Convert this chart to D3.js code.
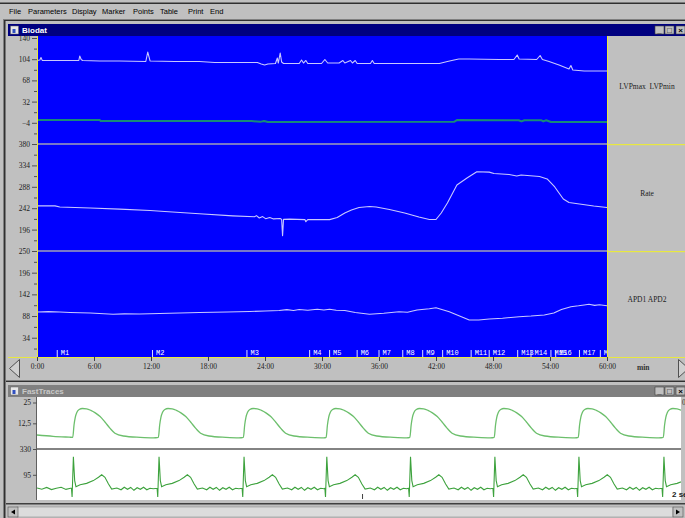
<!DOCTYPE html>
<html>
<head>
<meta charset="utf-8">
<script src="https://cdn.jsdelivr.net/npm/d3@7"></script>
<style>
body{margin:0;background:#c0c0c0;overflow:hidden}
svg{display:block}
</style>
</head>
<body>
<script>
// menu of the application
var menuItems = ["File","Parameters","Display","Marker","Points","Table","Print","End"];
var menuX = [9,28,72,102,133,160,188,210];

// slow trends, [minute, value]
var lvpMax = [[0,101.8],[0.3,102.6],[0.42,106.9],[0.55,102],[2.4,101.8],[4.4,101.8],[4.5,109.4],[4.65,103.5],[4.8,101.8],
  [6.6,101],[8.7,101],[11.45,100.1],[11.66,116.2],[11.9,101],[14.5,100.1],[17.1,100.1],[18.7,98.4],[21.3,98.4],[23.2,98.4],
  [23.6,95.9],[23.96,94.2],[24.3,95.9],[25.1,96.7],[25.3,106],[25.4,97.5],[25.6,114.5],[25.75,99.2],[25.95,96.7],[27.6,96.7],
  [27.85,102.6],[28.05,97.5],[28.3,101.8],[28.5,96.7],[29.95,96.7],[30.3,103.5],[30.6,97.5],[31.8,97.5],[32.2,101.8],[32.4,97.5],
  [33.0,101.8],[33.2,97.5],[33.5,101.8],[33.7,96.7],[35.1,96.7],[35.3,101.8],[35.5,96.7],[42.35,96.7],[43.2,100.1],[43.9,102.6],
  [44.4,104.3],[45.5,104.3],[48.65,103.5],[50.2,103.5],[50.55,111.1],[50.75,104.3],[52.6,103.5],[52.96,110.3],[53.2,103.5],
  [53.9,100.1],[54.95,94.2],[56,87.4],[56.2,93.3],[56.4,85.7],[57.6,84],[60,84]];
var lvpMin = [[0,0.8],[6.6,0.6],[6.7,-0.9],[22.6,-1.1],[23.5,-2.4],[23.9,-0.9],[24.3,-2.6],[43.9,-2.4],[44.2,0.6],[50.7,0.4],
  [51,-1.6],[51.3,0.4],[53.1,0.2],[53.3,-1.6],[53.6,0.3],[54.1,-2.6],[60,-2.6]];
var rate = [[0,247],[1.9,247],[2.4,244.6],[5.6,242.4],[8.7,240],[11.9,237],[13.45,235],[17.1,230],[20.6,225.5],[22.9,223.5],
  [23.1,226],[23.4,221],[23.75,224],[24.06,219.5],[24.5,222],[24.9,219],[25.6,220],[25.75,218],[25.85,183],[25.95,218],
  [26.6,218.5],[28.2,217.5],[28.3,213],[28.5,217.5],[30.8,217.5],[31.6,222],[32.4,231.7],[33.1,238.1],[33.9,243.5],[35,245.6],
  [35.7,244.6],[37.1,239.2],[38.7,231.7],[40.2,223],[41.3,217.7],[42,217.7],[42.55,231.7],[43.2,253],[44.2,292],[45.3,307.6],
  [46.3,320.5],[47.6,319.5],[48.1,316.6],[49.7,314.4],[50.5,311.2],[50.96,313.4],[52.9,310],[53.7,304.8],[54.5,287.6],
  [55.4,261.8],[56,254.2],[57.1,251],[58.6,246.7],[60,243.5]];
var apd = [[0,98.1],[1.2,99],[2.4,98.1],[3.5,97],[5.6,95.6],[8,92.3],[9.2,93.5],[10.8,93.1],[12.9,94.3],[15,95.5],[17.1,96.8],
  [20,98],[22.4,99.3],[24,100.5],[25.5,101.8],[26.3,104],[27,102],[27.6,104.3],[28.5,102.5],[29.5,105],[30.2,103],[30.8,104.8],
  [31.5,102.5],[32.4,101.8],[33.5,97],[35,92.3],[36.5,95],[38.1,98.8],[39,97.5],[40,103],[41.3,106],[42,108.8],[43.4,98.8],
  [45.5,78.2],[46.5,78.2],[47.6,80.6],[49,82.5],[50.75,86.4],[52,88],[53.4,90.6],[54.4,95.6],[55.2,104.3],[56.2,111.3],
  [57,113.5],[57.6,115.5],[58.1,117.3],[58.7,114.5],[59.2,116],[60,113.8]];

// markers
var markerNames = ["M1","M2","M3","M4","M5","M6","M7","M8","M9","M10","M11","M12","M13","M14","M15","M16","M17","M18"];
var markerTimes = [2.13,12.16,22.1,28.7,30.8,33.7,36.0,38.5,40.6,42.7,45.7,47.6,50.6,52.0,54.1,54.6,57.1,59.3];

// axes
var minuteTicks = [0,6,12,18,24,30,36,42,48,54,60];
var minuteLabels = ["0:00","6:00","12:00","18:00","24:00","30:00","36:00","42:00","48:00","54:00","60:00"];
var ticksLvp = [140,104,68,32,-4];
var ticksRate = [380,334,288,242,196];
var ticksApd = [250,196,142,88,34];
var panelNames = ["LVPmax  LVPmin","Rate","APD1 APD2"];

// fast traces: beat onsets (s) and one beat shape each (ms after onset, value)
var beatOnsets = [0.111,0.377,0.641,0.898,1.158,1.420,1.681,1.945];
var pressureLead = [[0,5.5],[0.05,4.7],[0.1,4.2]];
var pressureBeat = [[0,4.1],[4,11.5],[8,16.2],[13,19.2],[20,20.8],[30,21.4],[43,21.2],[56,20.3],[70,18.8],[85,16.6],
  [100,13.3],[116,9.5],[131,6.6],[157,4.9],[209,4.1],[250,3.8]];
var egmLead = [[0,-25],[0.015,-36],[0.03,-20],[0.045,-40],[0.06,-28],[0.075,-18],[0.09,-38],[0.104,-28]];
var egmBeat = [[-4,-28],[-2,-106.6],[2,258.5],[6,42],[10,-13.7],[23,4.9],[43,17],[64,42],[80,72.7],[90,95],[100,72.7],
  [111,11.4],[121,-35],[137,-25.8],[150,-41.6],[160,-18.3],[170,-36.9],[180,-20],[190,-46.2],[200,-23],[210,-36.9],
  [220,-18.3],[230,-41.6],[240,-27.6],[250,-32.3]];
var ticksPressure = [25,12.5];
var ticksEgm = [330,95];
var cursorTime = 1.011;

var svg = d3.select("body").append("svg").attr("width",685).attr("height",518);
svg.append("rect").attr("width",685).attr("height",518).attr("fill","#c0c0c0");

// app frame and menu
svg.append("rect").attr("x",0).attr("y",2.5).attr("width",685).attr("height",1.5).attr("fill","#303030");
svg.append("rect").attr("x",3).attr("y",19).attr("width",682).attr("height",1).attr("fill","#808080");
svg.append("rect").attr("x",3).attr("y",20).attr("width",682).attr("height",1).attr("fill","#303030");
svg.append("rect").attr("x",3).attr("y",19).attr("width",1).attr("height",499).attr("fill","#808080");
svg.append("rect").attr("x",4).attr("y",20).attr("width",1.5).attr("height",498).attr("fill","#303030");
svg.selectAll(".menu").data(menuItems).enter().append("text")
  .attr("x",function(d,i){return menuX[i]}).attr("y",14)
  .style("font-family","Liberation Sans, sans-serif").style("font-size","7.5px").attr("fill","#000")
  .text(function(d){return d});

function titleBar(y,h,title,bg,fg){
  svg.append("rect").attr("x",8).attr("y",y).attr("width",677).attr("height",h).attr("fill",bg);
  svg.append("rect").attr("x",10.5).attr("y",y+2).attr("width",8).attr("height",h-4).attr("fill","#e8e8e8").attr("stroke","#606060").attr("stroke-width",0.5);
  svg.append("rect").attr("x",12.5).attr("y",y+5).attr("width",3).attr("height",h-8).attr("fill","#3050c0");
  svg.append("text").attr("x",22).attr("y",y+h-3).attr("fill",fg)
    .style("font-family","Liberation Sans, sans-serif").style("font-size","8px").style("font-weight","bold").text(title);
  var glyph = ["_","\u25a1","\u00d7"];
  [655,665,676].forEach(function(bx,i){
    svg.append("rect").attr("x",bx).attr("y",y+2).attr("width",9).attr("height",h-4).attr("fill","#c0c0c0")
      .attr("stroke","#404040").attr("stroke-width",0.6);
    svg.append("text").attr("x",bx+4.5).attr("y",y+h-3.5).attr("text-anchor","middle")
      .style("font-family","Liberation Sans, sans-serif").style("font-size","8px").style("font-weight","bold")
      .attr("fill","#000").text(glyph[i]);
  });
}

// ---------- Biodat window ----------
titleBar(24,12,"Biodat","#000080","#ffffff");
var pLeft = 37, pRight = 607, pTop = 36, pBottom = 357;
svg.append("rect").attr("x",pLeft).attr("y",pTop).attr("width",pRight-pLeft).attr("height",pBottom-pTop).attr("fill","#0000ff");

var x = d3.scaleLinear().domain([0,60]).range([pLeft,pRight]);
var yLvp = d3.scaleLinear().domain([-40,140]).range([144,38]);
var yRate = d3.scaleLinear().domain([150,380]).range([251,144]);
var yApd = d3.scaleLinear().domain([-14,250]).range([357,251]);

svg.append("clipPath").attr("id","plotClip").append("rect")
  .attr("x",pLeft).attr("y",pTop).attr("width",pRight-pLeft).attr("height",pBottom-pTop);
var plot = svg.append("g").attr("clip-path","url(#plotClip)");

// panel separators
[144,251].forEach(function(sy){
  plot.append("line").attr("x1",pLeft).attr("x2",pRight).attr("y1",sy).attr("y2",sy)
    .attr("stroke","#7878c8").attr("stroke-width",2);
  svg.append("rect").attr("x",pRight).attr("y",sy).attr("width",685-pRight).attr("height",1.2)
    .attr("fill","#e8e840");
});

function trend(data,yScale,color,width){
  var line = d3.line().x(function(d){return x(d[0])}).y(function(d){return yScale(d[1])});
  plot.append("path").datum(data).attr("d",line).attr("fill","none")
    .attr("stroke",color).attr("stroke-width",width).attr("stroke-linejoin","round");
}
trend(lvpMin,yLvp,"#178a78",2);
trend(lvpMax,yLvp,"#c8c8ff",1.1);
trend(rate,yRate,"#c8c8ff",1.1);
trend(apd,yApd,"#c8c8ff",1.1);

// markers
var mk = plot.selectAll(".marker").data(markerNames).enter().append("g");
mk.append("line").attr("x1",function(d,i){return x(markerTimes[i])}).attr("x2",function(d,i){return x(markerTimes[i])})
  .attr("y1",350).attr("y2",pBottom).attr("stroke","#e0e0ff").attr("stroke-width",1);
mk.append("text").attr("x",function(d,i){return x(markerTimes[i])+3.5}).attr("y",355)
  .style("font-family","Liberation Mono, monospace").style("font-size","7px").attr("fill","#ffffff")
  .text(function(d){return d});

// frame lines
svg.append("line").attr("x1",pLeft+0.5).attr("x2",pLeft+0.5).attr("y1",pTop).attr("y2",pBottom).attr("stroke","#e8e840");
svg.append("line").attr("x1",pRight+0.5).attr("x2",pRight+0.5).attr("y1",pTop).attr("y2",pBottom).attr("stroke","#e8e840");
svg.append("line").attr("x1",8).attr("x2",685).attr("y1",pBottom+0.5).attr("y2",pBottom+0.5).attr("stroke","#e8e840");

// left axes
function leftAxis(scale,ticks){
  var g = svg.append("g").attr("transform","translate("+pLeft+",0)");
  g.call(d3.axisLeft(scale).tickValues(ticks).tickSize(5).tickSizeOuter(0).tickPadding(2).tickFormat(d3.format("d")));
  g.select(".domain").remove();
  g.selectAll("line").attr("stroke","#505050");
  g.selectAll("text").style("font-family","Liberation Serif, serif").style("font-size","7.5px").attr("fill","#202020");
}
function minorTicks(scale,ticks){
  var mids = ticks.slice(0,-1).map(function(t,i){return (t+ticks[i+1])/2});
  mids.push(ticks[ticks.length-1]-(ticks[0]-ticks[1])/2);
  var g = svg.append("g").attr("transform","translate("+pLeft+",0)");
  g.call(d3.axisLeft(scale).tickValues(mids).tickSize(3).tickSizeOuter(0).tickFormat(""));
  g.select(".domain").remove();
  g.selectAll("line").attr("stroke","#505050");
}
leftAxis(yLvp,ticksLvp); minorTicks(yLvp,ticksLvp);
leftAxis(yRate,ticksRate); minorTicks(yRate,ticksRate);
leftAxis(yApd,ticksApd); minorTicks(yApd,ticksApd);

// right panel names
var centers = [86,193,299];
svg.selectAll(".pname").data(panelNames).enter().append("text")
  .attr("x",647).attr("y",function(d,i){return centers[i]+3}).attr("text-anchor","middle")
  .style("font-family","Liberation Serif, serif").style("font-size","7.5px").style("white-space","pre")
  .attr("fill","#202020").text(function(d){return d});

// time axis
var xg = svg.append("g").attr("transform","translate(0,"+pBottom+")");
xg.call(d3.axisBottom(x).tickValues(minuteTicks).tickSize(4).tickSizeOuter(0).tickPadding(3)
  .tickFormat(function(d,i){return minuteLabels[i]}));
xg.select(".domain").remove();
xg.selectAll("line").attr("stroke","#404040");
xg.selectAll("text").style("font-family","Liberation Serif, serif").style("font-size","7.5px").attr("fill","#202020");
svg.append("text").attr("x",637).attr("y",370).style("font-family","Liberation Serif, serif")
  .style("font-size","7.5px").style("font-weight","bold").attr("fill","#303030").text("min");
svg.append("path").attr("d","M19.5,359.5 L9.5,368.5 L19.5,377.5 Z").attr("fill","#d0d0d0").attr("stroke","#505050");
svg.append("path").attr("d","M678.5,359.5 L688.5,368.5 L678.5,377.5 Z").attr("fill","#d0d0d0").attr("stroke","#505050");

svg.append("rect").attr("x",6).attr("y",380).attr("width",679).attr("height",1).attr("fill","#808080");
svg.append("rect").attr("x",6).attr("y",381).attr("width",679).attr("height",1).attr("fill","#303030");

// ---------- FastTraces window ----------
titleBar(385,12,"FastTraces","#808080","#c8c8c8");
var fLeft = 37, fRight = 681, fTop = 397, fBottom = 500;
svg.append("rect").attr("x",fLeft).attr("y",fTop).attr("width",fRight-fLeft).attr("height",fBottom-fTop).attr("fill","#ffffff");
svg.append("line").attr("x1",fLeft-0.5).attr("x2",fLeft-0.5).attr("y1",fTop).attr("y2",fBottom).attr("stroke","#606060");

var xf = d3.scaleLinear().domain([0,2]).range([fLeft,fRight]);
var yP = d3.scaleLinear().domain([-2.9,28.3]).range([449,fTop]);
var yE = d3.scaleLinear().domain([-134.5,330]).range([fBottom,449]);

svg.append("clipPath").attr("id","clipA").append("rect").attr("x",fLeft).attr("y",fTop).attr("width",fRight-fLeft).attr("height",52);
svg.append("clipPath").attr("id","clipB").append("rect").attr("x",fLeft).attr("y",449).attr("width",fRight-fLeft).attr("height",51);

function beats(lead,shape){
  var pts = lead.slice();
  beatOnsets.forEach(function(o){
    shape.forEach(function(p){ pts.push([o+p[0]/1000,p[1]]); });
  });
  return pts;
}
var lineP = d3.line().x(function(d){return xf(d[0])}).y(function(d){return yP(d[1])}).curve(d3.curveMonotoneX);
var lineE = d3.line().x(function(d){return xf(d[0])}).y(function(d){return yE(d[1])});
svg.append("path").datum(beats(pressureLead,pressureBeat)).attr("clip-path","url(#clipA)")
  .attr("d",lineP).attr("fill","none").attr("stroke","#6cbf6c").attr("stroke-width",1.3);
svg.append("path").datum(beats(egmLead,egmBeat)).attr("clip-path","url(#clipB)")
  .attr("d",lineE).attr("fill","none").attr("stroke","#3da23d").attr("stroke-width",1.1);

svg.append("line").attr("x1",fLeft).attr("x2",fRight).attr("y1",449).attr("y2",449).attr("stroke","#5a5a5a").attr("stroke-width",1.6);
svg.append("line").attr("x1",xf(cursorTime)).attr("x2",xf(cursorTime)).attr("y1",494).attr("y2",499).attr("stroke","#404040");

function fastAxis(scale,ticks){
  var g = svg.append("g").attr("transform","translate("+fLeft+",0)");
  g.call(d3.axisLeft(scale).tickValues(ticks).tickSize(4).tickSizeOuter(0).tickPadding(2)
    .tickFormat(function(d){return String(d).replace(".",",")}));
  g.select(".domain").remove();
  g.selectAll("line").attr("stroke","#505050");
  g.selectAll("text").style("font-family","Liberation Serif, serif").style("font-size","7.5px").attr("fill","#202020");
}
fastAxis(yP,ticksPressure);
fastAxis(yE,ticksEgm);
svg.append("text").attr("x",682).attr("y",405).style("font-family","Liberation Serif, serif").style("font-size","7.5px").attr("fill","#303030").text("0");
svg.append("text").attr("x",672).attr("y",497).style("font-family","Liberation Sans, sans-serif").style("font-size","8px").style("font-weight","bold").attr("fill","#202020").text("2 sec");

// scrollbar
svg.append("rect").attr("x",6).attr("y",503).attr("width",679).attr("height",1.5).attr("fill","#404040");
svg.append("rect").attr("x",17).attr("y",507).attr("width",656).attr("height",10).attr("fill","#dcdcdc").attr("stroke","#909090").attr("stroke-width",0.6);
[8,673].forEach(function(bx,i){
  svg.append("rect").attr("x",bx).attr("y",507).attr("width",10).attr("height",10).attr("fill","#c0c0c0").attr("stroke","#505050").attr("stroke-width",0.6);
  svg.append("path").attr("d", i==0 ? "M15,509.5 L11,512 L15,514.5 Z" : "M676,509.5 L680,512 L676,514.5 Z").attr("fill","#000");
});
</script>
</body>
</html>
